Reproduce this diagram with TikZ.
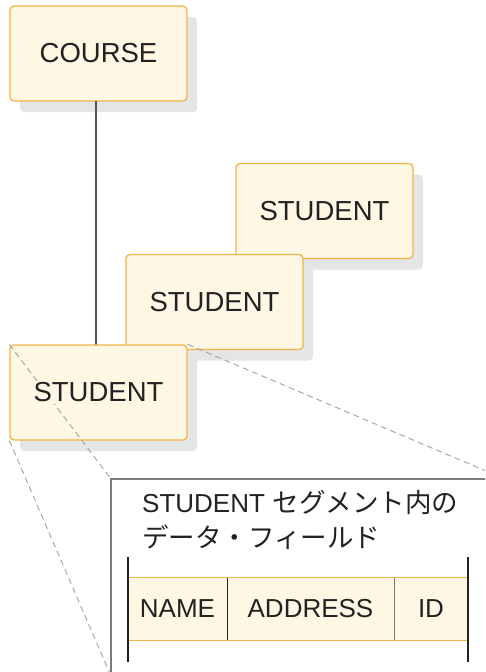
\documentclass[tikz,border=0pt]{standalone}
\usepackage{fontspec}
\setmainfont{Liberation Sans}
\newfontfamily\jpfont{Noto Sans CJK JP}
\usetikzlibrary{shadows}
\definecolor{boxline}{HTML}{F2B446}
\definecolor{cream}{HTML}{FDF7E4}
\definecolor{shade}{HTML}{E4E5E7}
\definecolor{ink}{HTML}{222222}
\definecolor{treeline}{HTML}{555555}
\definecolor{frameline}{HTML}{7A7A7A}
\definecolor{callout}{HTML}{A8A8A8}
\begin{document}
\begin{tikzpicture}[x=1pt,y=-1pt,
  bigfont/.style={font=\fontsize{27.5}{33}\selectfont, text=ink},
  midfont/.style={font=\fontsize{26}{31}\selectfont, text=ink},
  segbox/.style={draw=boxline, line width=1.3pt, fill=cream, rounded corners=4pt,
    minimum width=177pt, minimum height=95pt, inner sep=0pt, bigfont,
    drop shadow={shadow xshift=10pt, shadow yshift=-11pt, fill=shade, opacity=1}},
  boxtext/.style={bigfont, fill=cream, inner sep=2pt},
  treelink/.style={draw=treeline, line width=1.4pt},
  calloutline/.style={draw=callout, line width=1pt, dash pattern=on 6pt off 4pt},
  frame/.style={draw=frameline, line width=1.6pt},
  cell/.style={fill=cream, inner sep=0pt, minimum height=62pt, midfont},
  rowline/.style={draw=boxline, line width=1.3pt},
  sideline/.style={draw=ink, line width=1.4pt},
  divider/.style={draw=ink, line width=1.2pt},
  softdivider/.style={draw=frameline, line width=1.2pt}
]
\useasboundingbox (0,0) rectangle (485,672);
\clip (0,0) rectangle (485,672);

% tree connector
\coordinate (linetop) at (96,101);
\coordinate (linebot) at (96,345);

% boxes
\node[segbox] (course) at (98.5,53.5) {COURSE};
\draw[treelink] (linetop) -- (linebot);
\node[segbox] (back) at (324.5,211) {STUDENT};
\node[segbox] (middle) at (214.5,302) {STUDENT};
\node[segbox] (front) at (98.5,392.5) {};

% detail frame
\coordinate (dtl) at (111,479);
\coordinate (dtr) at (505,479);
\coordinate (dbl) at (111,676);
\draw[frame] (dbl) -- (dtl) -- (dtr);

% callout lines
\draw[calloutline] (front.north west) -- (dtl);
\draw[calloutline] (front.north east) -- (dtr);
\draw[calloutline] (front.south west) -- (dbl);

\node[boxtext] (frontlabel) at (front.center) {STUDENT};

% title
\node[midfont, anchor=base west, inner sep=0pt] (title1) at (142,512) {STUDENT\hspace{8pt}{\jpfont\fontsize{26.5}{31}\selectfont セグメント内の}};
\node[midfont, anchor=base west, inner sep=0pt] (title2) at (142,547) {{\jpfont\fontsize{26.5}{31}\selectfont データ・フィールド}};

% table
\node[cell, minimum width=99pt] (name) at (177.5,609) {NAME};
\node[cell, minimum width=167pt] (address) at (310.5,609) {ADDRESS};
\node[cell, minimum width=74pt] (id) at (431,609) {ID};
\draw[rowline] (name.north west) -- (id.north east);
\draw[rowline] (name.south west) -- (id.south east);
\draw[divider] (name.north east) -- (name.south east);
\draw[softdivider] (address.north east) -- (address.south east);
\coordinate (ltop) at (128,557);
\coordinate (lbot) at (128,662);
\coordinate (rtop) at (468,557);
\coordinate (rbot) at (468,662);
\draw[sideline] (ltop) -- (lbot);
\draw[sideline] (rtop) -- (rbot);
\end{tikzpicture}
\end{document}
